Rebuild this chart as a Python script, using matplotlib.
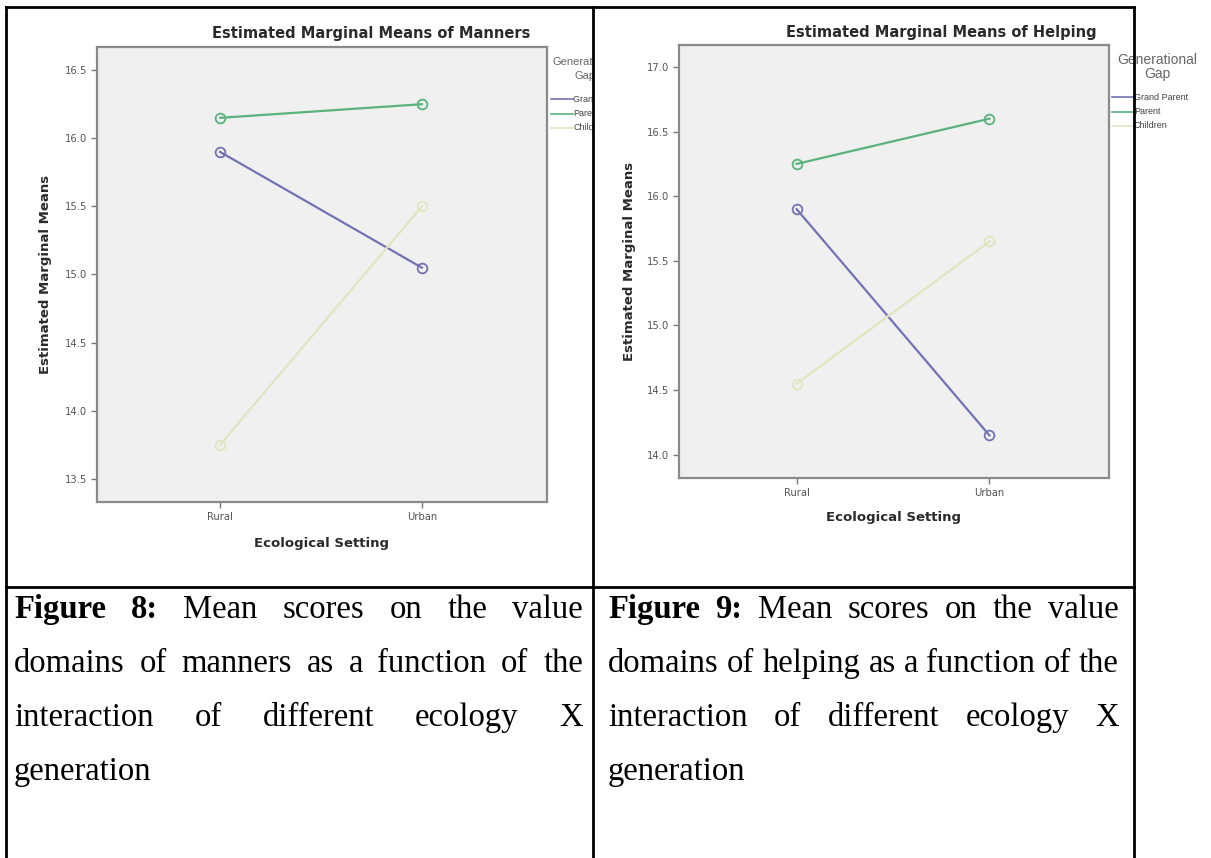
import matplotlib
matplotlib.use('Agg')
import matplotlib.pyplot as plt
from matplotlib.lines import Line2D
from matplotlib.transforms import Bbox, TransformedBbox

W, H = 1211, 858

settings = ['Rural', 'Urban']
groups = ['Grand Parent', 'Parent', 'Children']
colors = ['#7272b4', '#5ab27c', '#dfe5bf']

manners_grandparent = [15.90, 15.05]
manners_parent = [16.15, 16.25]
manners_children = [13.75, 15.50]
manners_ticks = [13.5, 14.0, 14.5, 15.0, 15.5, 16.0, 16.5]

helping_grandparent = [15.90, 14.15]
helping_parent = [16.25, 16.60]
helping_children = [14.55, 15.65]
helping_ticks = [14.0, 14.5, 15.0, 15.5, 16.0, 16.5, 17.0]

caption_left = [
    [('Figure', 'bold'), ('8:', 'bold'), ('Mean', 'normal'), ('scores', 'normal'),
     ('on', 'normal'), ('the', 'normal'), ('value', 'normal')],
    'domains of manners as a function of the',
    'interaction of different ecology X',
    'generation',
]
caption_right = [
    [('Figure', 'bold'), ('9:', 'bold'), ('Mean', 'normal'), ('scores', 'normal'),
     ('on', 'normal'), ('the', 'normal'), ('value', 'normal')],
    'domains of helping as a function of the',
    'interaction of different ecology X',
    'generation',
]

SANS = 'DejaVu Sans'
LEG = 'Liberation Sans'
SERIF = 'Liberation Serif'

fig = plt.figure(figsize=(W / 100, H / 100), dpi=100)
fig.patch.set_facecolor('white')

# full-page axes in pixel units for the table, captions and legends
bg = fig.add_axes([0, 0, 1, 1])
bg.set_xlim(0, W)
bg.set_ylim(H, 0)
bg.axis('off')


def px_axes(x0, y0, x1, y1):
    return fig.add_axes([x0 / W, 1 - y1 / H, (x1 - x0) / W, (y1 - y0) / H])


def emm_plot(ax, series, ticks, ylim, title):
    x = range(len(settings))
    lines = []
    for vals, c in zip(series, colors):
        ln, = ax.plot(x, vals, color=c, lw=1.6, marker='o', ms=7,
                      mfc='none', mec=c, mew=1.3)
        lines.append(ln)
    ax.set_xlim(-0.61, 1.62)
    ax.set_ylim(*ylim)
    ax.set_facecolor('#f0f0f0')
    for s in ax.spines.values():
        s.set_color('#8a8a8a')
        s.set_linewidth(1.6)
    ax.set_xticks(list(x))
    ax.set_xticklabels(settings, fontsize=7.2, color='#555555', family=SANS)
    ax.set_yticks(ticks)
    ax.set_yticklabels(['%.1f' % t for t in ticks], fontsize=7.2,
                       color='#555555', family=SANS)
    ax.tick_params(length=4, width=1, color='#777777', pad=3)
    ax.text(0.609, 1.03, title, transform=ax.transAxes, ha='center',
            va='center', fontsize=10.5, fontweight='bold', family=SANS,
            color='#2a2a2a')
    ax.text(-0.115, 0.5, 'Estimated Marginal Means', transform=ax.transAxes,
            rotation=90, ha='center', va='center', fontsize=9.5,
            fontweight='bold', family=SANS, color='#2a2a2a')
    ax.text(0.5, -0.092, 'Ecological Setting', transform=ax.transAxes,
            ha='center', va='center', fontsize=9.5, fontweight='bold',
            family=SANS, color='#2a2a2a')
    return lines


def gen_legend(x, y, lines, title_size, title_dx, clip_right=None):
    arts = []
    arts.append(bg.text(x + title_dx, y, 'Generational', ha='center',
                        va='center', fontsize=title_size, family=LEG,
                        color='#666666'))
    arts.append(bg.text(x + title_dx, y + 14, 'Gap', ha='center', va='center',
                        fontsize=title_size, family=LEG, color='#666666'))
    for i, ln in enumerate(lines):
        yy = y + 37 + i * 14.5
        bg.add_line(Line2D([x, x + 22], [yy, yy], color=ln.get_color(), lw=1.2))
        arts.append(bg.text(x + 22, yy, groups[i], ha='left', va='center',
                            fontsize=6.5, family=LEG, color='#444444'))
    if clip_right is not None:
        box = TransformedBbox(Bbox.from_extents(0, 0, clip_right / W, 1),
                              fig.transFigure)
        for a in arts:
            a.set_clip_box(box)
            a.set_clip_on(True)


def justified(lines, x0, x1, y0, step, size=23.5):
    r = fig.canvas.get_renderer()
    for i, line in enumerate(lines):
        if isinstance(line, str):
            words = [(w, 'normal') for w in line.split()]
        else:
            words = line
        y = y0 + i * step
        texts = [bg.text(0, y, w, fontsize=size, family=SERIF, fontweight=wt,
                         ha='left', va='baseline', color='black')
                 for w, wt in words]
        widths = [t.get_window_extent(r).width for t in texts]
        if i == len(lines) - 1 or len(texts) == 1:
            gap = 0.25 * size * 100 / 72
        else:
            gap = (x1 - x0 - sum(widths)) / (len(texts) - 1)
        xx = x0
        for t, w in zip(texts, widths):
            t.set_x(xx)
            xx += w + gap


ax1 = px_axes(97, 47, 547, 502)
l1 = emm_plot(ax1, [manners_grandparent, manners_parent, manners_children],
              manners_ticks, (13.33, 16.67), 'Estimated Marginal Means of Manners')
gen_legend(551, 62, l1, 8, 34, clip_right=593)

ax2 = px_axes(679, 45, 1109, 478)
l2 = emm_plot(ax2, [helping_grandparent, helping_parent, helping_children],
              helping_ticks, (13.82, 17.17), 'Estimated Marginal Means of Helping')
gen_legend(1112, 60, l2, 10, 45)

# table rules
for xv in [6, 593, 1134]:
    bg.add_line(Line2D([xv, xv], [7, H], color='black', lw=2, zorder=10))
for yh in [7, 587]:
    bg.add_line(Line2D([6, 1134], [yh, yh], color='black', lw=2, zorder=10))

justified(caption_left, 14, 583, 618, 54)
justified(caption_right, 608, 1119, 618, 54)

fig.savefig('out.png', dpi=100, facecolor='white')
